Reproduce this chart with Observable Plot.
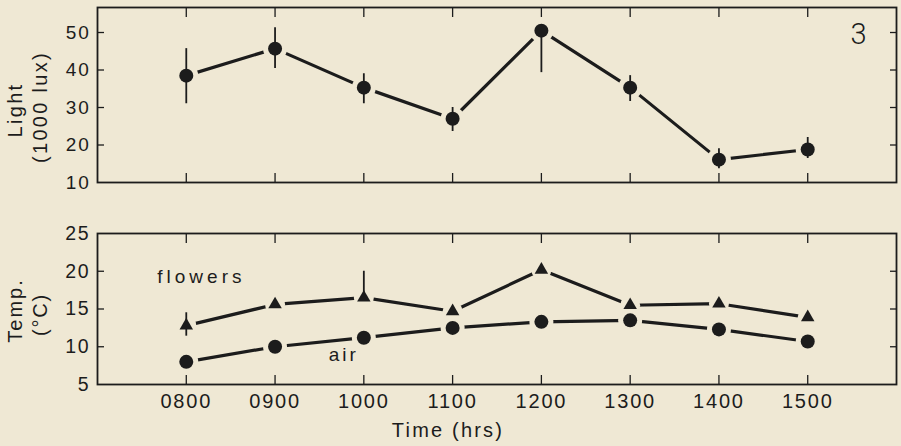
<!DOCTYPE html>
<html><head><meta charset="utf-8">
<script src="https://cdn.jsdelivr.net/npm/d3@7"></script>
<script src="https://cdn.jsdelivr.net/npm/@observablehq/plot@0.6"></script>
<style>
html,body{margin:0;padding:0;background:#efe8d4;}
#chart{position:relative;width:901px;height:446px;overflow:hidden;}
#chart svg{position:absolute;left:0;}
#chart svg text{letter-spacing:1.8px;}
</style></head><body><div id="chart"></div>
<script>
// ---- data ----
const hours = ["0800","0900","1000","1100","1200","1300","1400","1500"];
const times = [8, 9, 10, 11, 12, 13, 14, 15];
const lightTicks = [10, 20, 30, 40, 50];
const tempTicks = [5, 10, 15, 20, 25];

const lightMean = [38.5, 45.7, 35.3, 27.0, 50.5, 35.3, 16.1, 18.8];
const lightLow  = [31.0, 40.4, 31.0, 23.6, 39.3, 31.6, 13.7, 16.4];
const lightHigh = [45.7, 51.3, 39.0, 30.0, 50.5, 38.5, 19.0, 22.0];

const flowersTemp = [12.8, 15.6, 16.5, 14.7, 20.2, 15.5, 15.7, 13.9];
const flowersLow  = [11.4, null, 16.5, null, null, null, null, null];
const flowersHigh = [14.5, null, 20.0, null, null, null, null, null];
const airTemp = [8.0, 10.0, 11.2, 12.5, 13.3, 13.5, 12.3, 10.7];

// ---- tables ----
const lightData = times.map((t, i) => ({t, v: lightMean[i], lo: lightLow[i], hi: lightHigh[i]}));
const flowersData = times.map((t, i) => ({t, v: flowersTemp[i], lo: flowersLow[i], hi: flowersHigh[i]}));
const flowersErr = flowersData.filter(d => d.lo != null);
const airData = times.map((t, i) => ({t, v: airTemp[i]}));

const ink = "#1c1c1c", bg = "#efe8d4";
const font = "'Liberation Sans', Arial, Helvetica, sans-serif";
const xDomain = [7, 16];
const style = {background: "transparent", fontFamily: font, color: ink, overflow: "visible"};

const topPlot = Plot.plot({
  width: 901, height: 195,
  marginLeft: 97, marginRight: 5, marginTop: 7, marginBottom: 13,
  x: {domain: xDomain, axis: null},
  y: {domain: [10, 56.67], axis: null},
  style,
  marks: [
    Plot.frame({stroke: ink, strokeWidth: 1.8}),
    Plot.axisY(lightTicks, {anchor: "left", tickSize: 0, tickPadding: 7, fontSize: 19, label: null}),
    Plot.axisY(lightTicks.slice(1), {anchor: "left", tickSize: -7, fill: "none", label: null, strokeWidth: 1.3}),
    Plot.axisY(lightTicks.slice(1), {anchor: "right", tickSize: -7, fill: "none", label: null, strokeWidth: 1.3}),
    Plot.axisX(times, {anchor: "bottom", tickSize: -9, fill: "none", label: null, strokeWidth: 1.3}),
    Plot.axisX(times, {anchor: "top", tickSize: -9, fill: "none", label: null, strokeWidth: 1.3}),
    Plot.line(lightData, {x: "t", y: "v", stroke: ink, strokeWidth: 3.2, strokeLinecap: "butt"}),
    Plot.dot(lightData, {x: "t", y: "v", r: 12, fill: bg}),
    Plot.ruleX(lightData, {x: "t", y1: "lo", y2: "hi", stroke: ink, strokeWidth: 1.8}),
    Plot.dot(lightData, {x: "t", y: "v", r: 7, fill: ink}),
    Plot.text(["3"], {frameAnchor: "top-right", textAnchor: "middle", dx: -38, dy: 16, fontSize: 29,
      fontFamily: "Roboto, 'Liberation Sans', sans-serif", fontWeight: 300, text: d => d, fill: ink}),
    Plot.text(["Light"], {frameAnchor: "left", textAnchor: "middle", rotate: -90, dx: -82, dy: 15, fontSize: 20, text: d => d, fill: ink}),
    Plot.text(["(1000 lux)"], {frameAnchor: "left", textAnchor: "middle", rotate: -90, dx: -57, dy: 12, fontSize: 20, text: d => d, fill: ink})
  ]
});
topPlot.style.top = "0px";

const botPlot = Plot.plot({
  width: 901, height: 251,
  marginLeft: 97, marginRight: 5, marginTop: 38, marginBottom: 62,
  x: {domain: xDomain, axis: null},
  y: {domain: [5, 25], axis: null},
  style,
  marks: [
    Plot.frame({stroke: ink, strokeWidth: 1.8}),
    Plot.axisY(tempTicks, {anchor: "left", tickSize: 0, tickPadding: 7, fontSize: 19.5, label: null}),
    Plot.axisY(tempTicks.slice(1, -1), {anchor: "left", tickSize: -7, fill: "none", label: null, strokeWidth: 1.3}),
    Plot.axisY(tempTicks.slice(1, -1), {anchor: "right", tickSize: -7, fill: "none", label: null, strokeWidth: 1.3}),
    Plot.axisX(times, {anchor: "bottom", tickSize: -9, fill: "none", label: null, strokeWidth: 1.3}),
    Plot.axisX(times, {anchor: "top", tickSize: -9, fill: "none", label: null, strokeWidth: 1.3}),
    Plot.axisX(times, {anchor: "bottom", tickSize: 0, tickPadding: 9, fontSize: 20, label: null,
      tickFormat: d => hours[times.indexOf(d)]}),
    Plot.line(flowersData, {x: "t", y: "v", stroke: ink, strokeWidth: 3.2, strokeLinecap: "butt"}),
    Plot.line(airData, {x: "t", y: "v", stroke: ink, strokeWidth: 3.2, strokeLinecap: "butt"}),
    Plot.dot(flowersData, {x: "t", y: "v", r: 10, fill: bg}),
    Plot.dot(airData, {x: "t", y: "v", r: 12, fill: bg}),
    Plot.ruleX(flowersErr, {x: "t", y1: "lo", y2: "hi", stroke: ink, strokeWidth: 1.8}),
    Plot.dot(flowersData, {x: "t", y: "v", r: 5, symbol: "triangle", fill: ink}),
    Plot.dot(airData, {x: "t", y: "v", r: 7, fill: ink}),
    Plot.text(["flowers"], {x: () => times[0], y: () => flowersTemp[0], dx: -29, dy: -49, textAnchor: "start",
      fontSize: 19, text: d => d, fill: ink}),
    Plot.text(["air"], {x: () => times[2], y: () => airTemp[2], dx: -20, dy: 17,
      fontSize: 19, text: d => d, fill: ink}),
    Plot.text(["Temp."], {frameAnchor: "left", textAnchor: "middle", rotate: -90, dx: -82, dy: 1.5, fontSize: 20, text: d => d, fill: ink}),
    Plot.text(["(°C)"], {frameAnchor: "left", textAnchor: "middle", rotate: -90, dx: -57, dy: 5.5, fontSize: 20, text: d => d, fill: ink}),
    Plot.text(["Time (hrs)"], {frameAnchor: "bottom", textAnchor: "middle", dx: -49, dy: 52, fontSize: 20, text: d => d, fill: ink})
  ]
});
botPlot.style.top = "195px";

const chart = document.getElementById("chart");
chart.append(topPlot, botPlot);
const spacing = {"flowers": "4px", "air": "3px", "Light": "2.3px", "(1000 lux)": "2.3px", "Temp.": "2px", "Time (hrs)": "2.2px", "3": "0px"};
d3.select(chart).selectAll("text").each(function() {
  const s = spacing[this.textContent];
  if (s) this.style.letterSpacing = s;
});
</script>
</body></html>
